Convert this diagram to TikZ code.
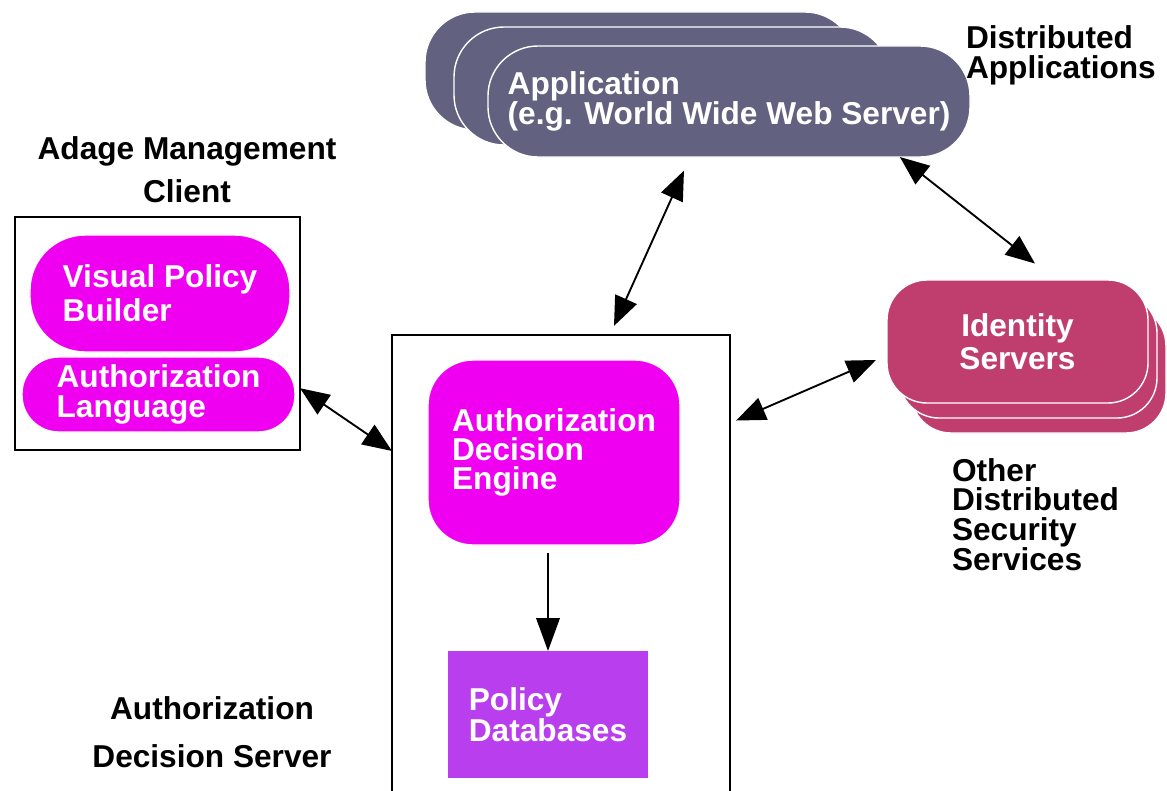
\documentclass[tikz,border=0pt]{standalone}
\usepackage{fontspec}
\setmainfont{Liberation Sans}
\usetikzlibrary{arrows.meta}

\definecolor{appslate}{RGB}{98,98,128}
\definecolor{vmag}{RGB}{240,0,240}
\definecolor{dbviolet}{RGB}{184,62,238}
\definecolor{idred}{RGB}{192,62,110}

\begin{document}
\begin{tikzpicture}[x=0.03cm,y=-0.03cm,
    every node/.style={inner sep=0pt,outer sep=0pt},
    txt/.style={font=\bfseries\fontsize{27}{#1}\selectfont},
    blob/.style={fill=#1,draw=white,line width=1.2pt,text=white},
    frame/.style={draw=black,line width=1.5pt},
    link/.style={{Triangle[length=25pt,width=20pt]}-{Triangle[length=25pt,width=20pt]},line width=1.6pt},
    flow/.style={-{Triangle[length=28pt,width=20pt]},line width=1.6pt}]
  \fill[white] (0,0) rectangle (1167,791);
  \useasboundingbox (0,0) rectangle (1167,791);

  % applications, stacked
  \filldraw[blob=appslate,rounded corners=1.5cm] (425,12) rectangle (855,130);
  \filldraw[blob=appslate,rounded corners=1.5cm] (454,27) rectangle (890,145);
  \node[blob=appslate,rounded corners=1.5cm,minimum width=14.46cm,minimum height=3.33cm,txt=22pt,align=left] (app) at (729,101.5) {Application\\(e.g. World Wide Web Server)};
  \node[txt=25.5pt,align=left,anchor=west] (distapp) at (966,55) {Distributed\\Applications};

  % identity servers, stacked
  \foreach \d in {2,1}
    \filldraw[blob=idred,rounded corners=1.2cm] (887+12*\d,280+13*\d) rectangle (1148+9*\d,403+15*\d);
  \node[blob=idred,rounded corners=1.2cm,minimum width=7.83cm,minimum height=3.69cm,txt=28.1pt,align=center] (id) at (1017.5,341.5) {Identity\\Servers};
  \node[txt=25pt,align=left,anchor=west] (others) at (952,515) {Other\\Distributed\\Security\\Services};

  % management client
  \node[txt=36.6pt,align=center] (adage) at (187,170) {Adage Management\\Client};
  \node[frame,minimum width=8.55cm,minimum height=6.99cm] (client) at (157.5,333.5) {};
  \node[blob=vmag,rounded corners=1.65cm,minimum width=7.8cm,minimum height=3.51cm,txt=28.9pt,align=left] (builder) at (160,293.5) {Visual Policy\\Builder};
  \node[blob=vmag,rounded corners=1.1cm,minimum width=8.19cm,minimum height=2.25cm,txt=25.5pt,align=left] (lang) at (158.5,394.5) {Authorization\\Language};

  % decision server
  \node[frame,minimum width=10.14cm,minimum height=13.8cm] (server) at (561,565) {};
  \node[blob=vmag,rounded corners=1.35cm,minimum width=7.56cm,minimum height=5.55cm,txt=24.5pt,align=left] (engine) at (554,452.5) {Authorization\\Decision\\Engine};
  \node[fill=dbviolet,text=white,minimum width=6cm,minimum height=3.81cm,txt=23.8pt,align=left] (db) at (548,714.5) {Policy\\Databases};
  \node[txt=40.8pt,align=center] (ads) at (212,732) {Authorization\\Decision Server};

  \draw[link] (client.-21) -- (server.146);
  \draw[link,shorten <=0.3cm,shorten >=0.45cm] (server.78) -- (app.-125);
  \draw[link,shorten <=0.2cm,shorten >=0.36cm] (server.40) -- (id.-174.6);
  \draw[link,shorten >=0.8cm] (app.-18) -- (id.58);
  \draw[flow,shorten <=0.24cm] (engine.south -| db.north) -- (db.north);
\end{tikzpicture}
\end{document}
